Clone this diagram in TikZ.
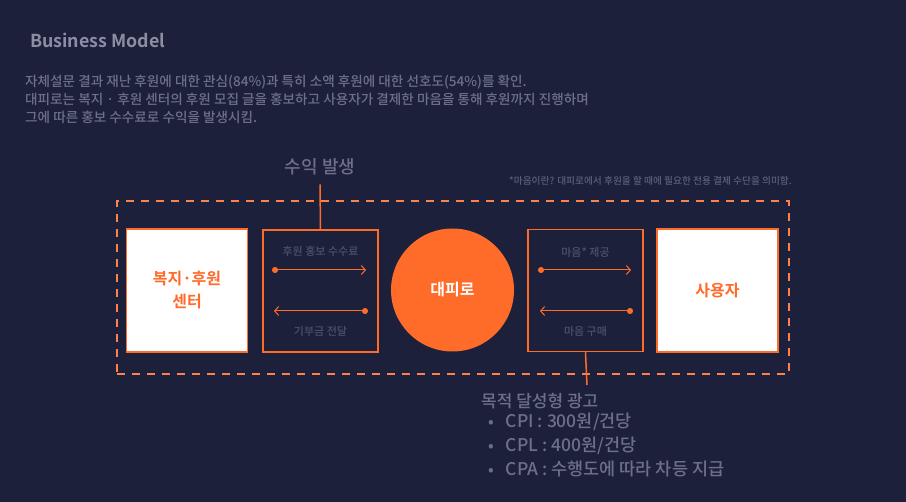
\documentclass[tikz,border=0pt]{standalone}
\usepackage{fontspec}
\setmainfont{Noto Sans CJK KR}[UprightFont={* Medium}, BoldFont={* Bold}]
\usetikzlibrary{positioning, arrows.meta, calc}
\definecolor{bgnavy}{HTML}{1D203A}
\definecolor{accent}{HTML}{FF6B29}
\definecolor{titlegray}{HTML}{8C8FA4}
\definecolor{textgray}{HTML}{6D7088}
\definecolor{labelgray}{HTML}{4D516B}
\definecolor{notegray}{HTML}{5C6078}

\begin{document}
\begin{tikzpicture}[
    x=1pt, y=-1pt,
    partybox/.style={draw=accent, fill=white, line width=1.2pt, minimum width=121pt, minimum height=123pt, inner sep=0pt, font=\fontsize{16}{23}\selectfont\bfseries, text=accent, align=center},
    flowbox/.style={draw=accent, line width=1.5pt, minimum width=115pt, minimum height=122pt, inner sep=0pt},
    hubnode/.style={circle, fill=accent, minimum size=123pt, inner sep=0pt, font=\fontsize{16}{20}\selectfont\bfseries, text=white},
    flowlabel/.style={font=\fontsize{11}{13}\selectfont, text=labelgray, inner sep=1pt},
    headlabel/.style={font=\fontsize{17}{24}\selectfont, text=textgray, align=left},
    flow/.style={{Circle[length=6pt]}-{Straight Barb[length=4pt, width=9pt]}, accent, line width=1pt},
    stem/.style={accent, line width=1.5pt},
    frame/.style={draw=accent!85!white, line width=1.3pt, dash pattern=on 8pt off 7pt, minimum width=672pt, minimum height=173pt}
]
    \useasboundingbox (0,0) rectangle (906,502);
    \fill[bgnavy] (0,0) rectangle (906,502);

    \node[anchor=west, inner sep=0pt, font=\fontsize{17.8}{20}\selectfont\bfseries, text=titlegray] (title) at (30,40) {Business Model};
    \node[anchor=north west, inner sep=0pt, align=left, font=\fontsize{13.6}{18}\selectfont, text=textgray] (intro) at (25,75) {%
      자체설문 결과 재난 후원에 대한 관심(84\%)과 특히 소액 후원에 대한 선호도(54\%)를 확인.\\
      대피로는 복지 · 후원 센터의 후원 모집 글을 홍보하고 사용자가 결제한 마음을 통해 후원까지 진행하며\\
      그에 따른 홍보 수수료로 수익을 발생시킴.};
    \node[anchor=east, inner sep=0pt, font=\fontsize{9.7}{11}\selectfont, text=notegray] (note) at (792,181) {*마음이란? 대피로에서 후원을 할 때에 필요한 전용 결제 수단을 의미함.};

    \node[frame]     (frame)    at (453,287.5) {};
    \node[partybox]  (center)   at (187,290.5) {복지·후원\\센터};
    \node[flowbox]   (feeBox)   at (320.5,291) {};
    \node[hubnode]   (hub)      at (452.5,290) {대피로};
    \node[flowbox]   (heartBox) at (585.5,290.5) {};
    \node[partybox]  (user)     at (717.5,290.5) {사용자};

    \node[flowlabel] (feeTop)   at (320.5,251) {후원 홍보 수수료};
    \node[flowlabel] (feeBot)   at (320.5,331) {기부금 전달};
    \node[flowlabel] (heartTop) at (585.5,252) {마음* 제공};
    \node[flowlabel] (heartBot) at (585.5,331) {마음 구매};

    \coordinate (feeA)   at (272,270);
    \coordinate (feeB)   at (366,270);
    \coordinate (feeC)   at (368,311);
    \coordinate (feeD)   at (274,311);
    \coordinate (heartA) at (538,270);
    \coordinate (heartB) at (631,270);
    \coordinate (heartC) at (633,311);
    \coordinate (heartD) at (540,311);

    \draw[flow] (feeA) -- (feeB);
    \draw[flow] (feeC) -- (feeD);
    \draw[flow] (heartA) -- (heartB);
    \draw[flow] (heartC) -- (heartD);

    \node[headlabel, inner ysep=9pt, font=\fontsize{18}{24}\selectfont] (revenue) at (320,167) {수익 발생};
    \draw[stem] (revenue.south) -- (feeBox.north);

    \coordinate (adTop) at (587,385);
    \draw[stem] (heartBox.south) -- (adTop);

    \node[headlabel, anchor=west, inner sep=0pt] (adHead) at (481,401) {목적 달성형 광고};
    \node[headlabel, anchor=north west, inner sep=0pt, font=\fontsize{17.5}{24}\selectfont] (adList) at (488,413) {%
      {\fontsize{16}{14}\selectfont•}\hspace{12pt}CPI : 300원/건당\\
      {\fontsize{16}{14}\selectfont•}\hspace{12pt}CPL : 400원/건당\\
      {\fontsize{16}{14}\selectfont•}\hspace{12pt}CPA : 수행도에 따라 차등 지급};

\end{tikzpicture}
\end{document}
